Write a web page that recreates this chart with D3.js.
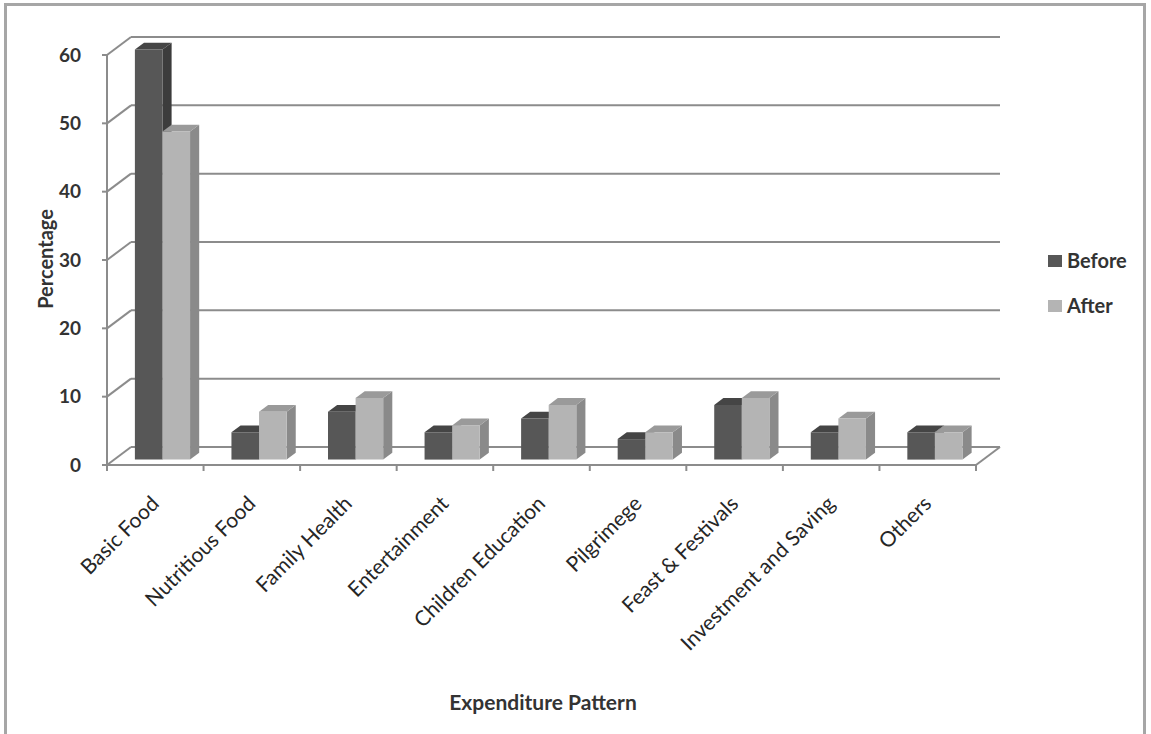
<!DOCTYPE html>
<html>
<head>
<meta charset="utf-8">
<script src="https://cdn.jsdelivr.net/npm/d3@7"></script>
<style>
  html, body { margin: 0; padding: 0; background: #fff; }
  svg { display: block; font-family: Lato, "Open Sans", sans-serif; }
</style>
</head>
<body>
<svg id="chart" width="1151" height="734"></svg>
<script>
// Household expenditure shares before / after
const categories = ["Basic Food", "Nutritious Food", "Family Health", "Entertainment",
  "Children Education", "Pilgrimege", "Feast & Festivals", "Investment and Saving", "Others"];
const seriesNames = ["Before", "After"];
const beforeValues = [60, 4, 7, 4, 6, 3, 8, 4, 4];
const afterValues = [48, 7, 9, 5, 8, 4, 9, 6, 4];
const yTicks = [0, 10, 20, 30, 40, 50, 60];

const svg = d3.select("#chart");

// 3-D box geometry: back wall plane and depth offset toward the viewer
const DX = 24, DY = 18;
const backLeft = 131, backRight = 1000;
const yBack = d3.scaleLinear().domain([0, 60]).range([447, 37]);
const frontY = v => yBack(v) + DY;

// category bands along the front edge of the floor
const x = d3.scaleBand().domain(categories).range([backLeft - DX, backRight - DX]);
// two bars per band, gap width 150%
const barW = x.bandwidth() / 3.5;
const xs = d3.scaleBand().domain(seriesNames).range([0.75 * barW, 2.75 * barW]);

// point at value v, front-plane x = xf, depth t (0 front, 1 back)
const P = (xf, v, t) => [xf + t * DX, frontY(v) - t * DY];

// outer frame
svg.append("path").attr("d", "M5.5,760V4.5H1144.5V760")
  .attr("fill", "none").attr("stroke", "#a6a6a6").attr("stroke-width", 3);

const grid = svg.append("g").attr("stroke", "#8c8c8c").attr("stroke-width", 2).attr("fill", "none");

// back wall gridlines plus their run across the side wall
yTicks.forEach(v => {
  grid.append("line").attr("x1", backLeft).attr("x2", backRight)
    .attr("y1", yBack(v)).attr("y2", yBack(v));
  grid.append("line").attr("x1", backLeft - DX).attr("y1", frontY(v))
    .attr("x2", backLeft).attr("y2", yBack(v));
});

// floor front edge and right edge
const floorFrontL = backLeft - DX, floorFrontR = backRight - DX;
grid.append("line").attr("x1", floorFrontL).attr("x2", floorFrontR)
  .attr("y1", frontY(0)).attr("y2", frontY(0));
grid.append("line").attr("x1", floorFrontR).attr("y1", frontY(0))
  .attr("x2", backRight).attr("y2", yBack(0));

// category tick marks on the floor edge
const catEdges = categories.map(c => x(c)).concat([x.range()[1]]);
grid.selectAll("line.ct").data(catEdges).join("line").attr("class", "ct")
  .attr("x1", d => d).attr("x2", d => d)
  .attr("y1", frontY(0)).attr("y2", frontY(0) + 6);

// vertical value axis on the front-left corner
grid.append("line").attr("x1", floorFrontL).attr("x2", floorFrontL)
  .attr("y1", frontY(0)).attr("y2", frontY(60));
grid.selectAll("line.vt").data(yTicks).join("line").attr("class", "vt")
  .attr("x1", floorFrontL - 5).attr("x2", floorFrontL)
  .attr("y1", d => frontY(d)).attr("y2", d => frontY(d));

svg.append("g").selectAll("text").data(yTicks).join("text")
  .attr("x", floorFrontL - 26).attr("y", d => frontY(d)).attr("dy", "0.35em")
  .attr("text-anchor", "end").attr("font-size", 19).attr("font-weight", 700)
  .attr("fill", "#333").text(d => d);

// bars
const colors = {
  Before: { front: "#575757", side: "#3c3c3c", top: "#454545" },
  After:  { front: "#b4b4b4", side: "#8a8a8a", top: "#9a9a9a" }
};
const t0 = 0.3, t1 = 0.68;
const barData = [];
categories.forEach((c, i) => {
  barData.push({ cat: c, s: "Before", v: beforeValues[i] });
  barData.push({ cat: c, s: "After", v: afterValues[i] });
});
const poly = pts => "M" + pts.map(p => p.join(",")).join("L") + "Z";
const bars = svg.append("g").selectAll("g").data(barData).join("g");
bars.each(function(d) {
  const g = d3.select(this);
  const xl = x(d.cat) + xs(d.s), xr = xl + barW;
  const c = colors[d.s];
  // side face
  g.append("path").attr("fill", c.side).attr("d", poly([
    P(xr, 0, t0), P(xr, 0, t1), P(xr, d.v, t1), P(xr, d.v, t0)]));
  // top face
  g.append("path").attr("fill", c.top).attr("d", poly([
    P(xl, d.v, t0), P(xr, d.v, t0), P(xr, d.v, t1), P(xl, d.v, t1)]));
  // front face
  g.append("path").attr("fill", c.front).attr("d", poly([
    P(xl, 0, t0), P(xr, 0, t0), P(xr, d.v, t0), P(xl, d.v, t0)]));
});

// category labels, rotated
svg.append("g").selectAll("text").data(categories).join("text")
  .attr("transform", d => `translate(${x(d) + x.bandwidth() / 2 + 5},${frontY(0) + 40}) rotate(-45)`)
  .attr("text-anchor", "end").attr("font-size", 21).attr("fill", "#262626").text(d => d);

// axis titles
svg.append("text").attr("transform", "translate(53,259) rotate(-90)")
  .attr("text-anchor", "middle").attr("font-size", 20).attr("font-weight", 700)
  .attr("fill", "#333").text("Percentage");
svg.append("text").attr("x", 543).attr("y", 710)
  .attr("text-anchor", "middle").attr("font-size", 21).attr("font-weight", 700)
  .attr("fill", "#333").text("Expenditure Pattern");

// legend
const leg = svg.append("g").selectAll("g").data(seriesNames).join("g")
  .attr("transform", (d, i) => `translate(1048,${255 + i * 45})`);
leg.append("rect").attr("width", 14).attr("height", 12).attr("fill", d => colors[d].front);
leg.append("text").attr("x", 19).attr("y", 6).attr("dy", "0.35em")
  .attr("font-size", 20).attr("font-weight", 700).attr("fill", "#333").text(d => d);
</script>
</body>
</html>
